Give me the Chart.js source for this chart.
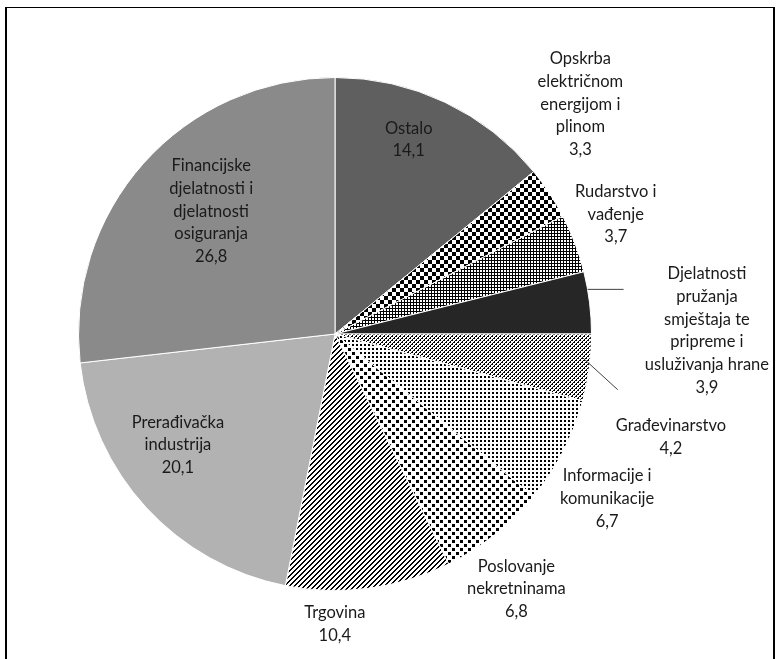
<!DOCTYPE html>
<html>
<head>
<meta charset="utf-8">
<script src="https://cdn.jsdelivr.net/npm/chart.js@4"></script>
<style>
  body { margin: 0; background: #fff; }
  #okvir { position: absolute; left: 5px; top: 7px; width: 766px; height: 700px; border: 2px solid #000; border-top-width: 1.5px; }
  #graf { position: absolute; left: 0; top: 0; }
</style>
</head>
<body>
<div id="okvir"></div>
<canvas id="graf" width="778" height="659"></canvas>
<script>
// podaci (udio u %)
var kategorije = [
    ["Ostalo"],
    ["Opskrba", "električnom", "energijom i", "plinom"],
    ["Rudarstvo i", "vađenje"],
    ["Djelatnosti", "pružanja", "smještaja te", "pripreme i", "usluživanja hrane"],
    ["Građevinarstvo"],
    ["Informacije i", "komunikacije"],
    ["Poslovanje", "nekretninama"],
    ["Trgovina"],
    ["Prerađivačka", "industrija"],
    ["Financijske", "djelatnosti i", "djelatnosti", "osiguranja"]
];
var udjeli = [14.1, 3.3, 3.7, 3.9, 4.2, 6.7, 6.8, 10.4, 20.1, 26.8];

// polozaj oznaka: pomak kuta (stupnjevi) i udaljenost (dio radijusa)
var pomakKuta = [-4.6, -9.8, -2.4, 6.5, 9.5, 4.0, 3.1, 7.6, 7.4, 3.0];
var udaljenost = [0.81, 1.31, 1.19, 1.45, 1.37, 1.24, 1.22, 1.13, 0.75, 0.68];

function uzorak(w, h, pozadina, crtaj) {
    var c = document.createElement("canvas");
    c.width = w; c.height = h;
    var x = c.getContext("2d");
    x.fillStyle = pozadina;
    x.fillRect(0, 0, w, h);
    x.fillStyle = pozadina == "#000" ? "#fff" : "#000";
    crtaj(x);
    return document.getElementById("graf").getContext("2d").createPattern(c, "repeat");
}

var sahovnica = uzorak(8, 8, "#fff", function(x){ x.fillRect(0,0,4,4); x.fillRect(4,4,4,4); });
var mreza = uzorak(3, 3, "#000", function(x){ x.fillRect(0,0,2,2); });
var crtice = uzorak(4, 4, "#fff", function(x){
    for (var i = 0; i < 4; i++) { x.fillRect(3 - i, i, 1, 1); if (i % 2 == 0) x.fillRect((4 - i) % 4, i, 1, 1); }
});
var gusteTocke = uzorak(4, 4, "#fff", function(x){ x.fillRect(0,0,2,2); });
var rijetkeTocke = uzorak(8, 8, "#fff", function(x){ x.fillRect(0,0,3,3); x.fillRect(4,4,3,3); });
var dijagonale = uzorak(5, 5, "#fff", function(x){
    for (var i = 0; i < 5; i++) { x.fillRect(4 - i, i, 1, 1); x.fillRect((5 - i) % 5, i, 1, 1); }
});

var boje = ["#5f5f5f", sahovnica, mreza, "#262626", crtice, gusteTocke, rijetkeTocke, dijagonale, "#b2b2b2", "#8a8a8a"];

var oznake = {
    id: "oznake",
    afterDatasetsDraw: function(chart) {
        var ctx = chart.ctx;
        var arcs = chart.getDatasetMeta(0).data;
        ctx.save();
        ctx.font = "16.5px Lato";
        ctx.fillStyle = "#1a1a1a";
        ctx.textAlign = "center";
        ctx.textBaseline = "middle";
        arcs.forEach(function(arc, i) {
            var mid = (arc.startAngle + arc.endAngle) / 2 + pomakKuta[i] * Math.PI / 180;
            var r = arc.outerRadius * udaljenost[i];
            var cx = arc.x + Math.cos(mid) * r;
            var cy = arc.y + Math.sin(mid) * r;
            var linije = kategorije[i].concat([udjeli[i].toFixed(1).replace(".", ",")]);
            var y0 = cy - (linije.length - 1) * 22.7 / 2;
            linije.forEach(function(t, j) { ctx.fillText(t, cx, y0 + j * 22.7); });
        });
        // linije vodilice
        ctx.strokeStyle = "#404040";
        ctx.lineWidth = 1;
        [[3, -3.0, 1.0, 36, 0], [4, -2.1, 0.97, 35, 32]].forEach(function(v) {
            var arc = arcs[v[0]];
            var a = (arc.startAngle + arc.endAngle) / 2 + v[1] * Math.PI / 180;
            var sx = arc.x + Math.cos(a) * arc.outerRadius * v[2];
            var sy = arc.y + Math.sin(a) * arc.outerRadius * v[2];
            ctx.beginPath();
            ctx.moveTo(sx, sy);
            ctx.lineTo(sx + v[3], sy + v[4]);
            ctx.stroke();
        });
        ctx.restore();
    }
};

new Chart(document.getElementById("graf"), {
    type: "pie",
    data: {
        labels: kategorije,
        datasets: [{
            data: udjeli,
            backgroundColor: boje,
            borderColor: "#ffffff",
            borderWidth: 1
        }]
    },
    options: {
        responsive: false,
        animation: false,
        layout: { padding: { left: 78, right: 186, top: 77, bottom: 68 } },
        plugins: { legend: { display: false }, tooltip: { enabled: false } }
    },
    plugins: [oznake]
});
</script>
</body>
</html>
